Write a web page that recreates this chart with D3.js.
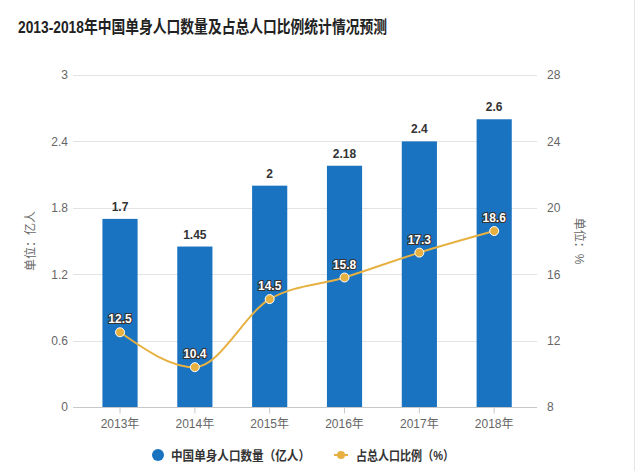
<!DOCTYPE html>
<html><head><meta charset="utf-8">
<script src="https://cdn.jsdelivr.net/npm/d3@7/dist/d3.min.js"></script>
<style>
body{margin:0;background:#fff;}
text{font-family:"Liberation Sans","Noto Sans CJK SC",Arial,sans-serif;}
</style></head>
<body><svg id="c" width="640" height="471"></svg>
<script>
const years = ["2013年","2014年","2015年","2016年","2017年","2018年"];
const singles = [1.7,1.45,2,2.18,2.4,2.6];
const shares = [12.5,10.4,14.5,15.8,17.3,18.6];
const singleLabels = ["1.7","1.45","2","2.18","2.4","2.6"];
const shareLabels = ["12.5","10.4","14.5","15.8","17.3","18.6"];
const leftTicks = [0,0.6,1.2,1.8,2.4,3];
const rightTicks = [8,12,16,20,24,28];
const title = "2013-2018年中国单身人口数量及占总人口比例统计情况预测";
const seriesNames = ["中国单身人口数量（亿人）","占总人口比例（%）"];
const axisTitles = ["单位：亿人","单位：%"];

const svg = d3.select("#c");
const barColor = "#1a73c1", lineColor = "#e7b142";
const L = 82.6, R = 531.6, T = 75, B = 407;

const x = d3.scaleBand().domain(years).range([L,R]).paddingInner(0.53).paddingOuter(0.265);
const yL = d3.scaleLinear().domain([0,3]).range([B,T]);
const yR = d3.scaleLinear().domain([8,28]).range([B,T]);
const cx = d => x(d) + x.bandwidth()/2;

svg.append("rect").attr("width",640).attr("height",471).attr("fill","#fff");
svg.append("line").attr("x1",634.5).attr("x2",634.5).attr("y1",0).attr("y2",471).attr("stroke","#e4e4e4");

svg.append("text").attr("x",18).attr("y",33).attr("font-size",17).attr("font-weight","bold")
  .attr("fill","#222").attr("textLength",369).attr("lengthAdjust","spacingAndGlyphs").text(title);

// gridlines
svg.append("g").selectAll("line").data(leftTicks).join("line")
  .attr("x1",73).attr("x2",537).attr("y1",d=>Math.round(yL(d))+0.5).attr("y2",d=>Math.round(yL(d))+0.5)
  .attr("stroke","#e3e3e3");

// left axis
const gl = svg.append("g").attr("transform","translate(73,0)")
  .call(d3.axisLeft(yL).tickValues(leftTicks).tickSize(0).tickPadding(5).tickFormat(d=>d));
gl.select(".domain").remove();
gl.selectAll("text").attr("font-size",12).attr("fill","#666").style("font-family","Liberation Sans, Arial, sans-serif");

// right axis
const gr = svg.append("g").attr("transform","translate(537,0)")
  .call(d3.axisRight(yR).tickValues(rightTicks).tickSize(0).tickPadding(10));
gr.select(".domain").remove();
gr.selectAll("text").attr("font-size",12).attr("fill","#666").style("font-family","Liberation Sans, Arial, sans-serif");

// x axis
const gx = svg.append("g").attr("transform",`translate(0,${B+0.5})`)
  .call(d3.axisBottom(x).tickSize(0).tickPadding(12));
gx.select(".domain").attr("stroke","#c8c8c8").attr("d",`M73,0H537`);
gx.selectAll(".tick").append("line").attr("y1",0).attr("y2",6).attr("stroke","#c8c8c8");
gx.selectAll("text").attr("font-size",12).attr("fill","#666");

// axis titles
svg.append("text").attr("transform","translate(35,241) rotate(-90)").attr("text-anchor","middle")
  .attr("font-size",12).attr("fill","#666").text(axisTitles[0]);
svg.append("text").attr("transform","translate(575,241) rotate(90)").attr("text-anchor","middle")
  .attr("font-size",12).attr("fill","#666").text(axisTitles[1]);

// bars
svg.append("g").selectAll("rect").data(years).join("rect")
  .attr("x",d=>x(d)).attr("width",x.bandwidth())
  .attr("y",(d,i)=>yL(singles[i])).attr("height",(d,i)=>B-yL(singles[i]))
  .attr("fill",barColor);
svg.append("g").selectAll("text").data(years).join("text")
  .attr("x",d=>cx(d)).attr("y",(d,i)=>yL(singles[i])-8).attr("text-anchor","middle")
  .attr("font-size",12).attr("font-weight","bold").attr("fill","#333")
  .text((d,i)=>singleLabels[i]);

// line
const line = d3.line().x((d,i)=>cx(years[i])).y(d=>yR(d)).curve(d3.curveMonotoneX);
svg.append("path").datum(shares).attr("d",line).attr("fill","none").attr("stroke",lineColor).attr("stroke-width",2);
svg.append("g").selectAll("circle").data(shares).join("circle")
  .attr("cx",(d,i)=>cx(years[i])).attr("cy",d=>yR(d)).attr("r",4.5)
  .attr("fill",lineColor).attr("stroke","#fff").attr("stroke-width",1);
svg.append("g").selectAll("text").data(shares).join("text")
  .attr("x",(d,i)=>cx(years[i])).attr("y",d=>yR(d)-9).attr("text-anchor","middle")
  .attr("font-size",12).attr("font-weight","bold").attr("fill","#fff")
  .attr("stroke","#333").attr("stroke-width",2.2).attr("paint-order","stroke")
  .text((d,i)=>shareLabels[i]);

// legend
const lg = svg.append("g");
lg.append("circle").attr("cx",158).attr("cy",455).attr("r",6).attr("fill",barColor);
lg.append("text").attr("x",171).attr("y",460).attr("font-size",13).attr("font-weight","bold").attr("fill","#333")
  .attr("textLength",139).attr("lengthAdjust","spacingAndGlyphs").text(seriesNames[0]);
lg.append("line").attr("x1",334).attr("x2",348).attr("y1",455).attr("y2",455).attr("stroke",lineColor).attr("stroke-width",2);
lg.append("circle").attr("cx",341).attr("cy",455).attr("r",4).attr("fill",lineColor);
lg.append("text").attr("x",356).attr("y",460).attr("font-size",13).attr("font-weight","bold").attr("fill","#333")
  .attr("textLength",98).attr("lengthAdjust","spacingAndGlyphs").text(seriesNames[1]);
</script></body></html>
